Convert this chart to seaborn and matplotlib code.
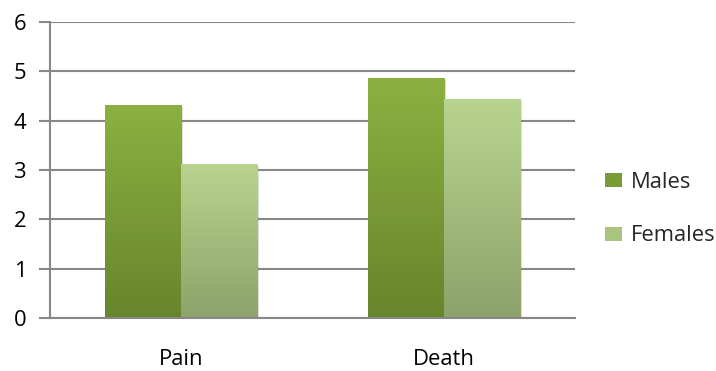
import numpy as np
import pandas as pd
import seaborn as sns
import matplotlib
matplotlib.use("Agg")
import matplotlib.pyplot as plt
import matplotlib.patheffects as pe
from matplotlib.colors import LinearSegmentedColormap
from matplotlib.patches import Patch

# Mean ratings by sex
categories = ["Pain", "Death"]
series = ["Males", "Females"]
males = [4.32, 4.87]
females = [3.13, 4.44]
y_ticks = [0, 1, 2, 3, 4, 5, 6]

# gradient ends (top, bottom) for each series
top_colors = {"Males": "#8cb142", "Females": "#b9d48f"}
bottom_colors = {"Males": "#67852b", "Females": "#8ca36a"}

df = pd.DataFrame({
    "category": categories * 2,
    "sex": ["Males"] * len(categories) + ["Females"] * len(categories),
    "value": males + females,
})

sns.set_style("white")
plt.rcParams["font.family"] = ["Open Sans", "DejaVu Sans"]
FS = 15.8

fig = plt.figure(figsize=(7.16, 3.71), dpi=100)
ax = fig.add_axes([50 / 716, 1 - 318 / 371, (575 - 50) / 716, (318 - 22) / 371])

sns.barplot(data=df, x="category", y="value", hue="sex", order=categories,
            hue_order=series, palette=top_colors, width=0.58, ax=ax,
            legend=False, saturation=1)

# replace flat fills with vertical gradients and a soft shadow
bars = [p for p in ax.patches if p.get_height() > 0]
for i, bar in enumerate(bars):
    name = series[i // len(categories)]
    cmap = LinearSegmentedColormap.from_list(name, [bottom_colors[name], top_colors[name]])
    x0, y0 = bar.get_x(), bar.get_y()
    w, h = bar.get_width(), bar.get_height()
    grad = np.linspace(1, 0, 256).reshape(-1, 1)
    im = ax.imshow(grad, cmap=cmap, extent=[x0, x0 + w, y0, y0 + h],
                   aspect="auto", zorder=bar.get_zorder() + 0.1, interpolation="bicubic")
    im.set_clip_path(bar)
    bar.set_facecolor("none")
    bar.set_edgecolor("none")
    bar.set_path_effects([pe.SimplePatchShadow(offset=(1.5, -1.5),
                                               shadow_rgbFace="#808080", alpha=0.25)])

ax.set_xlim(-0.5, len(categories) - 0.5)
ax.set_ylim(0, 6)
ax.set_yticks(y_ticks)
ax.set_axisbelow(True)
ax.grid(axis="y", color="#878787", linewidth=1.5)
ax.grid(axis="x", visible=False)

for side in ["top", "right"]:
    ax.spines[side].set_visible(False)
for side in ["left", "bottom"]:
    ax.spines[side].set_color("#878787")
    ax.spines[side].set_linewidth(1.5)

# category boundaries as tick marks, labels centred in between
ax.set_xticks(np.arange(len(categories) + 1) - 0.5, minor=True)
ax.tick_params(axis="x", which="minor", length=8, width=1.5, color="#878787", direction="out")
ax.tick_params(axis="x", which="major", length=0, pad=22, labelsize=FS, labelcolor="black")
ax.tick_params(axis="y", length=8, width=1.5, color="#878787", direction="out",
               pad=9, labelsize=FS, labelcolor="black", left=True)
ax.set_xlabel("")
ax.set_ylabel("")

handles = [Patch(facecolor=c, edgecolor="none", label=s)
           for s, c in zip(series, ["#7a9c37", "#a8c47f"])]
fig.legend(handles=handles, loc="center left", bbox_to_anchor=(605 / 716, 1 - 209 / 371),
           frameon=False, fontsize=FS, handlelength=0.76, handleheight=0.6,
           handletextpad=0.4, labelspacing=1.5, borderaxespad=0, borderpad=0)

fig.savefig("out.png", dpi=100)
